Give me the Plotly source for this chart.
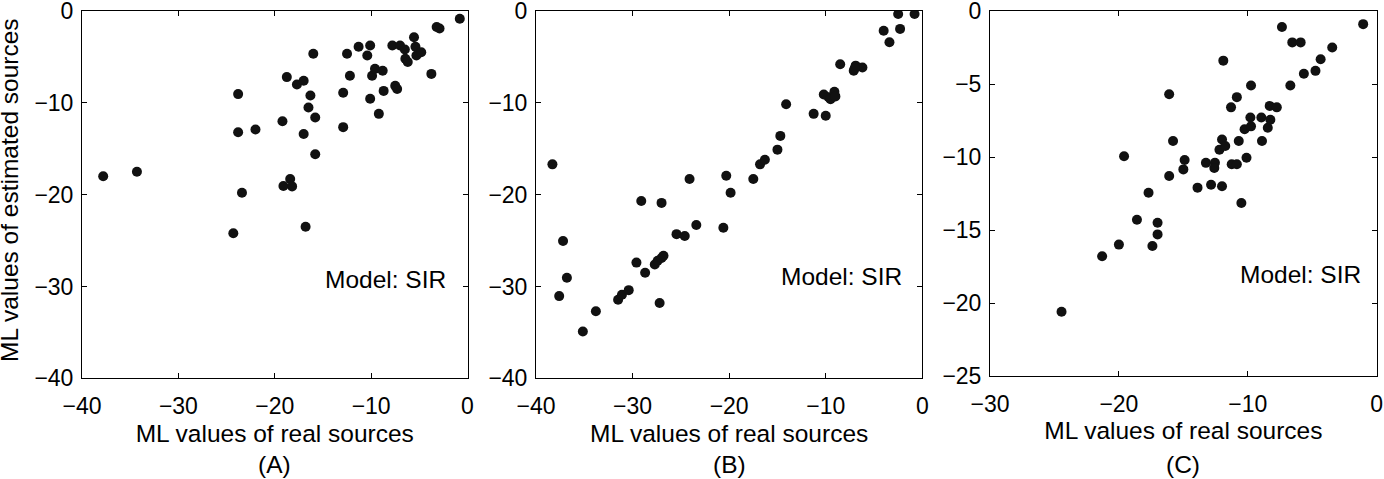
import plotly.graph_objects as go

# Panel A data
a_x = [-37.8, -34.3, -23.8, -23.8, -22.0, -23.4, -24.3, -18.75, -19.2, -17.7, -17.0, -16.3, -16.5,
       -15.8, -17.0, -15.8, -16.0, -19.1, -18.4, -18.2, -16.8, -12.5, -12.2, -12.9, -12.9, -11.3,
       -10.1, -10.4, -9.9, -9.6, -8.8, -10.1, -8.7, -9.2, -7.8, -7.0, -6.5, -6.45, -6.2, -7.5, -7.3,
       -5.55, -5.4, -5.3, -4.8, -3.75, -3.2, -2.9, -0.8]
a_y = [-18.0, -17.5, -9.05, -13.2, -12.9, -19.8, -24.2, -7.2, -12.0, -8.0, -7.6, -9.2, -10.5,
       -11.6, -13.4, -15.6, -4.65, -19.05, -18.3, -19.1, -23.5, -4.65, -7.05, -8.9, -12.65, -3.9,
       -3.75, -4.85, -7.05, -6.3, -6.5, -9.55, -8.7, -11.2, -3.75, -3.75, -4.2, -5.2, -5.55, -8.15, -8.5,
       -2.85, -3.9, -4.85, -4.5, -6.85, -1.75, -1.9, -0.85]

# Panel B data
b_x = [-38.3, -37.2, -36.8, -37.6, -33.8, -35.15, -31.5, -31.1, -30.4, -29.6, -28.7, -29.1, -27.0,
       -27.2, -27.7, -27.4, -27.0, -26.8, -25.45, -24.6, -23.4, -24.1, -20.6, -20.3, -19.85, -17.5,
       -16.8, -16.3, -15.0, -14.7, -14.1, -11.25, -10.0, -10.2, -9.7, -9.5, -9.1, -9.0, -8.5, -7.1,
       -6.9, -6.2, -7.0, -4.0, -3.4, -2.5, -2.3, -0.8]
b_y = [-16.7, -25.05, -29.05, -31.05, -32.7, -34.9, -31.45, -30.9, -30.4, -27.4, -28.5, -20.7, -20.9,
       -31.8, -27.6, -27.2, -26.9, -26.65, -24.3, -24.5, -23.3, -18.3, -23.6, -17.95, -19.8, -18.3,
       -16.7, -16.2, -15.1, -13.6, -10.15, -11.2, -11.4, -9.1, -9.4, -9.6, -8.8, -9.3, -5.8, -6.5,
       -5.95, -6.15, -6.25, -2.15, -3.4, -0.33, -1.95, -0.33]

# Panel C data
c_x = [-24.45, -21.3, -20.0, -19.6, -18.6, -17.7, -17.4, -17.0, -17.0, -16.1, -16.1, -15.8, -14.9,
       -15.0, -13.9, -13.25, -12.85, -12.55, -12.6, -12.0, -12.2, -12.0, -11.75, -11.9, -11.25, -10.85,
       -11.3, -10.7, -10.85, -10.5, -10.1, -10.25, -9.8, -9.75, -9.75, -8.95, -8.9, -8.45, -8.25, -8.3,
       -7.75, -7.35, -6.7, -6.55, -5.9, -5.65, -4.75, -4.35, -3.45, -1.05]
c_y = [-20.6, -16.8, -16.0, -9.95, -14.3, -12.45, -16.1, -14.5, -15.3, -5.7, -11.3, -8.9, -10.2,
       -10.85, -12.1, -10.4, -11.9, -10.4, -10.75, -12.0, -9.5, -8.8, -9.25, -3.4, -10.5, -10.5,
       -6.6, -8.9, -5.9, -13.15, -10.05, -8.1, -7.3, -7.9, -5.1, -7.3, -8.9, -8.0, -7.45, -6.5,
       -6.6, -1.1, -5.1, -2.15, -2.15, -4.3, -4.1, -3.3, -2.5, -0.9]

panel_labels = ["(A)", "(B)", "(C)"]
x_title = "ML values of real sources"
y_title = "ML values of estimated sources"
note_text = "Model: SIR"

W, H = 1384, 479
FONT = "Liberation Sans, Arial, Helvetica, sans-serif"
MARK = "#111111"
TICK_SIZE = 23
TEXT_SIZE = 24.5

fig = go.Figure()
data = [(a_x, a_y), (b_x, b_y), (c_x, c_y)]
for i, (xs, ys) in enumerate(data):
    sfx = "" if i == 0 else str(i + 1)
    fig.add_trace(go.Scatter(x=xs, y=ys, mode="markers", xaxis="x" + sfx, yaxis="y" + sfx,
                             marker=dict(size=10, color=MARK, line=dict(width=0)),
                             showlegend=False, hoverinfo="x+y"))

# pixel geometry of the plotting areas
boxes = [(82, 467.5, 11, 378.3), (536, 922.3, 11, 378.3), (990, 1376.7, 11, 376)]
xranges = [[-40, 0], [-40, 0], [-30, 0]]
yranges = [[-40, 0], [-40, 0], [-25, 0]]
ydticks = [10, 10, 5]

axis_common = dict(showgrid=False, zeroline=False, showline=True, linecolor="black", linewidth=1,
                   mirror="ticks", ticks="inside", ticklen=5, tickwidth=1, tickcolor="black",
                   automargin=False, ticklabeloverflow="allow",
                   tickfont=dict(family=FONT, size=TICK_SIZE, color="black"))

layout = dict(width=W, height=H, margin=dict(l=0, r=0, t=0, b=0), template="none",
              paper_bgcolor="white", plot_bgcolor="white",
              font=dict(family=FONT, color="black"), showlegend=False)

annotations = []
for i, (l, r, t, b) in enumerate(boxes):
    sfx = "" if i == 0 else str(i + 1)
    xa = dict(axis_common, domain=[l / W, r / W], range=xranges[i], dtick=10, tick0=0,
              anchor="y" + sfx, ticklabelstandoff=7,
              title=dict(text=x_title, font=dict(family=FONT, size=TEXT_SIZE, color="black"), standoff=6))
    ya = dict(axis_common, domain=[1 - b / H, 1 - t / H], range=yranges[i], dtick=ydticks[i], tick0=0,
              anchor="x" + sfx, ticklabelstandoff=3)
    layout["xaxis" + sfx] = xa
    layout["yaxis" + sfx] = ya
    annotations.append(dict(text=panel_labels[i], x=(l + r) / 2 / W, y=1 - 464 / H, xref="paper", yref="paper",
                            xanchor="center", yanchor="middle", showarrow=False,
                            font=dict(family=FONT, size=TEXT_SIZE, color="black")))

# y-axis title of panel A (placed as rotated text at the far left)
annotations.append(dict(text=y_title, x=10 / W, y=1 - 190 / H, xref="paper", yref="paper",
                        xanchor="center", yanchor="middle", textangle=-90, showarrow=False,
                        font=dict(family=FONT, size=TEXT_SIZE, color="black")))

note_pos = [(-2.0, -29.2), (-1.9, -28.9), (-1.04, -18.07)]
for i, (nx, ny) in enumerate(note_pos):
    sfx = "" if i == 0 else str(i + 1)
    annotations.append(dict(text=note_text, x=nx, y=ny, xref="x" + sfx, yref="y" + sfx,
                            xanchor="right", yanchor="middle", showarrow=False,
                            font=dict(family=FONT, size=TEXT_SIZE, color="black")))

layout["annotations"] = annotations
fig.update_layout(**layout)
fig.write_html("out.html", config={"displayModeBar": False},
               post_script="document.body.style.margin='0px';document.body.style.overflow='hidden';")
